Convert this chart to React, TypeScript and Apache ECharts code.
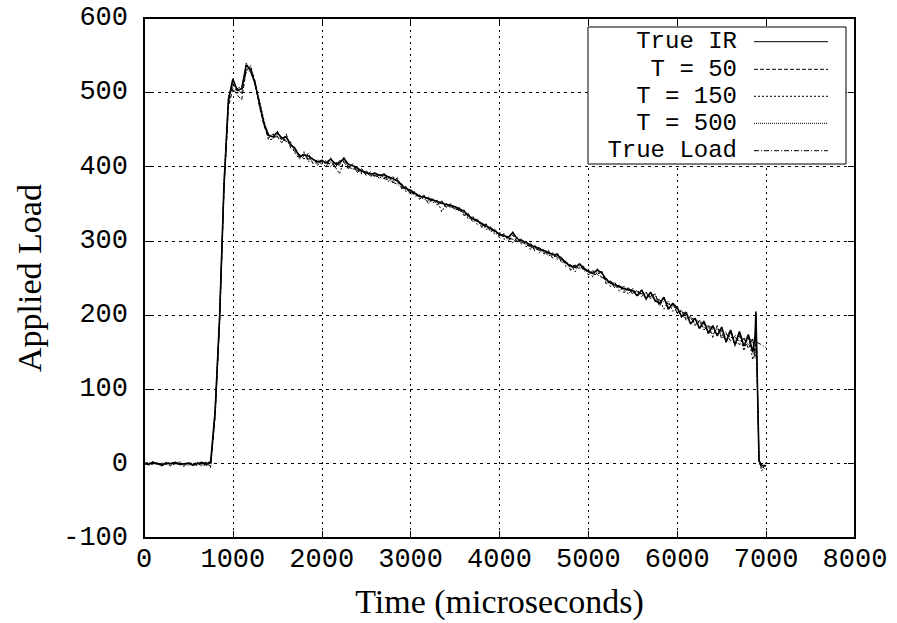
import React, { useEffect, useRef } from "react";
import * as echarts from "echarts";

// Time samples (microseconds)
const times = [
  0, 50, 100, 150, 200, 250, 300, 350, 400, 450,
  500, 550, 600, 650, 700, 750, 800, 850, 900, 950,
  1000, 1050, 1100, 1150, 1200, 1250, 1300, 1350, 1400, 1450,
  1500, 1550, 1600, 1650, 1700, 1750, 1800, 1850, 1900, 1950,
  2000, 2050, 2100, 2150, 2200, 2250, 2300, 2350, 2400, 2450,
  2500, 2550, 2600, 2650, 2700, 2750, 2800, 2850, 2900, 2950,
  3000, 3050, 3100, 3150, 3200, 3250, 3300, 3350, 3400, 3450,
  3500, 3550, 3600, 3650, 3700, 3750, 3800, 3850, 3900, 3950,
  4000, 4050, 4100, 4150, 4200, 4250, 4300, 4350, 4400, 4450,
  4500, 4550, 4600, 4650, 4700, 4750, 4800, 4850, 4900, 4950,
  5000, 5050, 5100, 5150, 5200, 5250, 5300, 5350, 5400, 5450,
  5500, 5550, 5600, 5650, 5700, 5750, 5800, 5850, 5900, 5950,
  6000, 6050, 6100, 6150, 6200, 6250, 6300, 6350, 6400, 6450,
  6500, 6550, 6600, 6650, 6700, 6750, 6800, 6850, 6875, 6885, 6920, 6950, 7000,
];

const trueIR = [
  1, -1, 2, 0, -2, 1, 0, 2, -1, 0,
  1, -2, 0, 2, -1, 3, 70, 195, 375, 490,
  518, 502, 505, 537, 530, 512, 485, 458, 442, 440,
  446, 438, 440, 430, 424, 413, 416, 414, 410, 406,
  408, 405, 410, 404, 405, 411, 403, 401, 398, 394,
  392, 390, 391, 388, 389, 386, 384, 381, 375, 370,
  368, 364, 360, 359, 357, 355, 353, 351, 349, 348,
  346, 343, 340, 334, 330, 327, 323, 320, 317, 313,
  309, 307, 305, 311, 303, 300, 298, 294, 292, 289,
  287, 284, 282, 281, 276, 270, 266, 264, 269, 263,
  259, 256, 261, 257, 248, 243, 241, 238, 236, 234,
  233, 226, 234, 222, 231, 220, 216, 224, 208, 216,
  210, 198, 204, 188, 196, 182, 192, 176, 186, 172,
  184, 164, 180, 160, 178, 158, 174, 150, 172, 205, 4, -2, -3,
];

const t50 = [
  0, 2, -1, 1, -3, 0, 2, -1, 1, -2,
  0, 1, -3, 1, 2, -4, 62, 188, 368, 480,
  505, 496, 490, 530, 534, 515, 480, 455, 438, 444,
  441, 432, 444, 425, 420, 416, 410, 418, 404, 409,
  403, 400, 412, 398, 408, 406, 397, 404, 392, 397,
  388, 393, 385, 391, 384, 388, 378, 385, 370, 373,
  362, 366, 356, 361, 350, 357, 348, 354, 345, 350,
  341, 345, 334, 337, 325, 330, 318, 323, 312, 316,
  304, 310, 300, 308, 298, 303, 292, 297, 286, 292,
  282, 287, 276, 284, 270, 273, 260, 268, 262, 266,
  254, 260, 255, 259, 242, 246, 236, 241, 230, 237,
  228, 234, 225, 231, 222, 229, 212, 224, 208, 216,
  202, 207, 193, 198, 186, 193, 180, 186, 170, 186,
  168, 176, 165, 172, 160, 170, 155, 168, 145, 200, 2, -6, 0,
];

const t150 = [
  -1, 0, 3, -2, 1, -1, -3, 1, 0, -4,
  2, -1, 1, -3, 0, -5, 74, 200, 380, 494,
  512, 499, 500, 528, 536, 508, 488, 462, 436, 437,
  448, 435, 437, 433, 418, 410, 420, 406, 412, 401,
  410, 402, 406, 400, 390, 409, 400, 396, 400, 390,
  395, 386, 393, 383, 392, 380, 387, 378, 377, 366,
  370, 360, 362, 355, 359, 351, 355, 339, 351, 344,
  347, 339, 342, 329, 333, 322, 326, 315, 319, 308,
  312, 302, 306, 297, 305, 295, 300, 288, 294, 284,
  289, 279, 284, 275, 279, 265, 269, 258, 270, 259,
  262, 251, 263, 250, 251, 238, 244, 232, 239, 228,
  236, 225, 233, 220, 231, 218, 221, 208, 219, 205,
  210, 196, 202, 188, 196, 182, 190, 174, 182, 175,
  178, 163, 178, 158, 174, 152, 172, 140, 155, 195, 6, -10, 2,
];

const t500 = [
  2, -2, 0, 1, -1, 2, -2, 0, 3, -1,
  -2, 0, 2, -1, -3, 1, 66, 190, 370, 486,
  515, 505, 498, 540, 526, 512, 482, 460, 444, 438,
  443, 440, 435, 428, 426, 412, 418, 409, 411, 404,
  406, 408, 400, 406, 402, 413, 398, 402, 395, 392,
  393, 387, 390, 389, 386, 384, 381, 383, 373, 372,
  365, 366, 358, 362, 354, 357, 350, 353, 346, 349,
  343, 345, 336, 333, 328, 329, 320, 322, 314, 315,
  307, 309, 302, 313, 300, 302, 296, 292, 290, 291,
  284, 286, 280, 283, 273, 272, 263, 267, 266, 265,
  257, 258, 258, 259, 245, 245, 239, 240, 233, 236,
  231, 232, 228, 229, 226, 228, 215, 223, 211, 214,
  205, 205, 196, 196, 189, 190, 183, 184, 174, 182,
  172, 174, 170, 170, 165, 168, 160, 166, 142, 202, 3, -4, -8,
];

const trueLoad = [
  0, 0, 0, 0, 0, 0, 0, 0, 0, 0,
  0, 0, 0, 0, 0, 0, 68, 192, 372, 488,
  510, 505, 508, 530, 528, 510, 483, 457, 443, 440,
  440, 437, 434, 429, 423, 416, 413, 411, 409, 407,
  406, 405, 404, 403, 402, 401, 399, 397, 395, 393,
  391, 389, 388, 386, 384, 382, 379, 376, 372, 369,
  366, 363, 360, 358, 356, 354, 352, 350, 348, 346,
  344, 341, 338, 334, 330, 326, 322, 319, 316, 312,
  309, 306, 304, 302, 300, 298, 295, 292, 290, 287,
  285, 283, 281, 278, 275, 271, 268, 266, 264, 262,
  259, 256, 254, 251, 248, 245, 242, 239, 237, 235,
  233, 231, 229, 227, 225, 223, 220, 218, 215, 212,
  209, 205, 201, 197, 194, 191, 188, 185, 183, 181,
  179, 177, 175, 173, 171, 169, 168, 166, 165, 164, 162, 160, 156,
];

const legendNames = ["True IR", "T = 50", "T = 150", "T = 500", "True Load"];
const legendDashes: (number[] | null)[] = [null, [4, 2], [2, 2], [1, 1], [5, 2, 1, 2]];

const MONO = "'Liberation Mono', 'DejaVu Sans Mono', monospace";
const SERIF = "'Liberation Serif', 'DejaVu Serif', serif";

function pairs(vals: number[]) {
  return times.map((t, i) => [t, vals[i]]);
}

export default function App() {
  const ref = useRef<HTMLDivElement>(null);
  useEffect(() => {
    if (!ref.current) return;
    const chart = echarts.init(ref.current, undefined, { renderer: "svg" });
    const gridLeft = 144;
    const gridTop = 18;
    const gridW = 711;
    const gridH = 520;

    const seriesDefs = [
      { name: legendNames[0], data: trueIR, dash: legendDashes[0], width: 1.6 },
      { name: legendNames[1], data: t50, dash: legendDashes[1], width: 1 },
      { name: legendNames[2], data: t150, dash: legendDashes[2], width: 1 },
      { name: legendNames[3], data: t500, dash: legendDashes[3], width: 1 },
      { name: legendNames[4], data: trueLoad, dash: legendDashes[4], width: 1 },
    ];

    const lx = 588, ly = 27, lw = 258, lh = 137;
    const rowY = [41.7, 69.3, 96.3, 123.3, 150.7];
    const legendGraphic: any[] = [
      {
        type: "rect",
        shape: { x: lx, y: ly, width: lw, height: lh },
        style: { fill: "#fff", stroke: "#000", lineWidth: 1 },
        z: 100,
      },
    ];
    legendNames.forEach((n, i) => {
      legendGraphic.push({
        type: "text",
        x: 737,
        y: rowY[i],
        style: {
          text: n,
          fill: "#000",
          font: `24px ${MONO}`,
          textAlign: "right",
          textVerticalAlign: "middle",
        },
        z: 101,
      });
      legendGraphic.push({
        type: "line",
        shape: { x1: 754, y1: rowY[i], x2: 828, y2: rowY[i] },
        style: {
          stroke: "#000",
          lineWidth: 1,
          lineDash: legendDashes[i] || undefined,
        },
        z: 101,
      });
    });

    const plain = (v: number) => String(v);

    const option: any = {
      animation: false,
      backgroundColor: "#fff",
      grid: {
        left: gridLeft,
        top: gridTop,
        width: gridW,
        height: gridH,
        show: true,
        borderColor: "#000",
        borderWidth: 2,
        backgroundColor: "transparent",
      },
      xAxis: [
        {
          type: "value",
          min: 0,
          max: 8000,
          interval: 1000,
          position: "bottom",
          name: "Time (microseconds)",
          nameLocation: "middle",
          nameGap: 46,
          nameTextStyle: { fontFamily: SERIF, fontSize: 34, color: "#000" },
          axisLine: { show: true, onZero: false, lineStyle: { color: "#000", width: 2 } },
          axisTick: { show: true, inside: true, length: 7, lineStyle: { color: "#000", width: 1 } },
          axisLabel: { show: true, fontFamily: MONO, fontSize: 27, color: "#000", margin: 8, formatter: plain },
          splitLine: { show: true, lineStyle: { color: "#000", width: 1, type: [2, 4] } },
        },
        {
          type: "value",
          min: 0,
          max: 8000,
          interval: 1000,
          position: "top",
          axisLine: { show: true, onZero: false, lineStyle: { color: "#000", width: 2 } },
          axisTick: { show: true, inside: true, length: 7, lineStyle: { color: "#000", width: 1 } },
          axisLabel: { show: false },
          splitLine: { show: false },
        },
      ],
      yAxis: [
        {
          type: "value",
          min: -100,
          max: 600,
          interval: 100,
          position: "left",
          name: "Applied Load",
          nameLocation: "middle",
          nameGap: 98,
          nameRotate: 90,
          nameTextStyle: { fontFamily: SERIF, fontSize: 34, color: "#000" },
          axisLine: { show: true, onZero: false, lineStyle: { color: "#000", width: 2 } },
          axisTick: { show: true, inside: true, length: 7, lineStyle: { color: "#000", width: 1 } },
          axisLabel: { show: true, fontFamily: MONO, fontSize: 27, color: "#000", margin: 16, formatter: plain },
          splitLine: { show: true, lineStyle: { color: "#000", width: 1, type: [3, 4] } },
        },
        {
          type: "value",
          min: -100,
          max: 600,
          interval: 100,
          position: "right",
          axisLine: { show: true, onZero: false, lineStyle: { color: "#000", width: 2 } },
          axisTick: { show: true, inside: true, length: 7, lineStyle: { color: "#000", width: 1 } },
          axisLabel: { show: false },
          splitLine: { show: false },
        },
      ],
      series: seriesDefs.map((s) => ({
        type: "line",
        name: s.name,
        xAxisIndex: 0,
        yAxisIndex: 0,
        data: pairs(s.data),
        showSymbol: false,
        symbol: "none",
        silent: true,
        lineStyle: {
          color: "#000",
          width: s.width,
          type: s.dash ? s.dash : "solid",
        },
      })),
      graphic: legendGraphic,
    };
    chart.setOption(option);
    return () => chart.dispose();
  }, []);
  return (
    <div
      ref={ref}
      style={{ position: "fixed", left: 0, top: 0, width: 897, height: 623, background: "#fff" }}
    />
  );
}
